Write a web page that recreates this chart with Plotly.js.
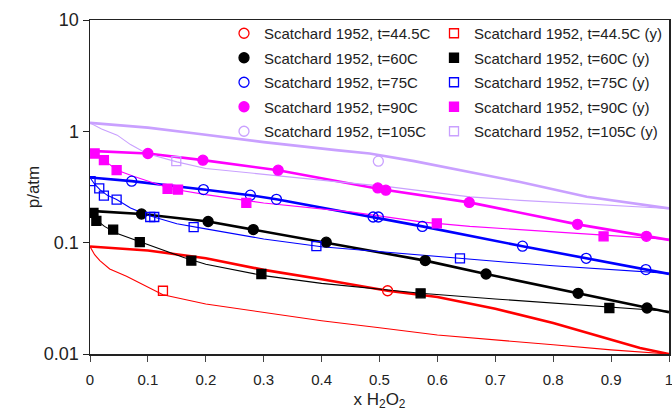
<!DOCTYPE html>
<html>
<head>
<meta charset="utf-8">
<script src="https://cdn.plot.ly/plotly-3.0.1.min.js"></script>
<style>html,body{margin:0;padding:0;background:#fff}#chart{width:672px;height:414px}</style>
</head>
<body>
<div id="chart"></div>
<script>
// ---- Data (x = mole fraction H2O2, p in atm) ----
// t = 44.5 C
const x445_pts = [0.514];
const p445_pts = [0.037];
const y445_pts = [0.126];
const q445_pts = [0.037];
const x445_line = [0, 0.05, 0.1, 0.2, 0.3, 0.4, 0.514, 0.6, 0.7, 0.8, 0.9, 0.95, 1.0];
const p445_line = [0.0923, 0.089, 0.085, 0.0725, 0.057, 0.047, 0.037, 0.0325, 0.0255, 0.019, 0.0135, 0.0113, 0.0100];
const y445_line = [0, 0.008, 0.017, 0.034, 0.063, 0.126, 0.2, 0.3, 0.4, 0.5, 0.6, 0.8, 0.9, 1.0];
const q445_line = [0.0923, 0.078, 0.069, 0.058, 0.050, 0.034, 0.0281, 0.0237, 0.0199, 0.0172, 0.0148, 0.0121, 0.0109, 0.0100];

// t = 60 C
const x60_pts = [0.089, 0.204, 0.282, 0.408, 0.579, 0.684, 0.843, 0.962];
const p60_pts = [0.181, 0.155, 0.131, 0.101, 0.069, 0.0523, 0.0351, 0.0259];
const y60_pts = [0.006, 0.011, 0.040, 0.086, 0.175, 0.296, 0.571, 0.897];
const q60_pts = [0.185, 0.157, 0.131, 0.101, 0.069, 0.0523, 0.0351, 0.0259];
const x60_line = [0, 0.089, 0.204, 0.282, 0.408, 0.579, 0.684, 0.843, 0.962, 1.0];
const p60_line = [0.193, 0.181, 0.155, 0.131, 0.101, 0.069, 0.0523, 0.0351, 0.0259, 0.0237];
const y60_line = [0, 0.006, 0.011, 0.025, 0.047, 0.087, 0.125, 0.162, 0.2, 0.3, 0.4, 0.571, 0.7, 0.9, 1.0];
const q60_line = [0.193, 0.178, 0.160, 0.140, 0.121, 0.102, 0.086, 0.0735, 0.064, 0.0506, 0.0431, 0.0351, 0.0312, 0.0262, 0.0242];

// t = 75 C
const x75_pts = [0.072, 0.196, 0.277, 0.322, 0.489, 0.498, 0.574, 0.747, 0.857, 0.960];
const p75_pts = [0.357, 0.300, 0.267, 0.245, 0.170, 0.170, 0.140, 0.093, 0.0724, 0.0573];
const y75_pts = [0.001, 0.016, 0.024, 0.046, 0.104, 0.111, 0.179, 0.391, 0.639];
const q75_pts = [0.357, 0.307, 0.265, 0.244, 0.170, 0.170, 0.138, 0.093, 0.0724];
const x75_line = [0, 0.072, 0.196, 0.277, 0.322, 0.49, 0.574, 0.747, 0.857, 0.96, 1.0];
const p75_line = [0.385, 0.357, 0.300, 0.267, 0.245, 0.170, 0.140, 0.093, 0.0724, 0.0573, 0.0524];
const y75_line = [0, 0.008, 0.018, 0.03, 0.046, 0.07, 0.1, 0.15, 0.2, 0.3, 0.4, 0.5, 0.6, 0.7, 0.8, 0.9, 1.0];
const q75_line = [0.385, 0.335, 0.296, 0.266, 0.244, 0.205, 0.176, 0.148, 0.133, 0.108, 0.092, 0.083, 0.075, 0.068, 0.062, 0.057, 0.053];

// t = 90 C
const x90_pts = [0.100, 0.195, 0.325, 0.497, 0.511, 0.655, 0.842, 0.961];
const p90_pts = [0.632, 0.551, 0.448, 0.310, 0.296, 0.230, 0.146, 0.114];
const y90_pts = [0.008, 0.024, 0.046, 0.134, 0.152, 0.270, 0.599, 0.887];
const q90_pts = [0.632, 0.551, 0.448, 0.305, 0.300, 0.228, 0.149, 0.114];
const x90_line = [0, 0.1, 0.195, 0.325, 0.5, 0.655, 0.842, 0.961, 1.0];
const p90_line = [0.668, 0.632, 0.551, 0.448, 0.303, 0.230, 0.146, 0.114, 0.106];
const y90_line = [0, 0.008, 0.024, 0.047, 0.075, 0.104, 0.14, 0.2, 0.3, 0.45, 0.575, 0.656, 0.887, 1.0];
const q90_line = [0.668, 0.632, 0.551, 0.448, 0.395, 0.351, 0.305, 0.270, 0.227, 0.189, 0.153, 0.140, 0.117, 0.107];

// t = 105 C
const x105_pts = [0.498];
const p105_pts = [0.540];
const y105_pts = [0.149];
const q105_pts = [0.540];
const x105_line = [0, 0.1, 0.179, 0.3, 0.425, 0.483, 0.56, 0.656, 0.743, 0.858, 0.93, 1.0];
const p105_line = [1.19, 1.08, 0.96, 0.80, 0.678, 0.632, 0.54, 0.432, 0.351, 0.258, 0.228, 0.203];
const y105_line = [0, 0.02, 0.047, 0.07, 0.098, 0.15, 0.2, 0.26, 0.328, 0.42, 0.518, 0.656, 0.743, 0.87, 1.0];
const q105_line = [1.19, 1.05, 0.924, 0.76, 0.632, 0.532, 0.464, 0.43, 0.400, 0.355, 0.317, 0.258, 0.240, 0.22, 0.203];

const labels = ['Scatchard 1952, t=44.5C', 'Scatchard 1952, t=60C', 'Scatchard 1952, t=75C',
                'Scatchard 1952, t=90C', 'Scatchard 1952, t=105C'];
const colors = ['#ff0000', '#000000', '#0000ff', '#ff00ff', '#c9a0ff'];

const sets = [
  [x445_pts, p445_pts, y445_pts, q445_pts, x445_line, p445_line, y445_line, q445_line, 'circle-open', 'square-open'],
  [x60_pts, p60_pts, y60_pts, q60_pts, x60_line, p60_line, y60_line, q60_line, 'circle', 'square'],
  [x75_pts, p75_pts, y75_pts, q75_pts, x75_line, p75_line, y75_line, q75_line, 'circle-open', 'square-open'],
  [x90_pts, p90_pts, y90_pts, q90_pts, x90_line, p90_line, y90_line, q90_line, 'circle', 'square'],
  [x105_pts, p105_pts, y105_pts, q105_pts, x105_line, p105_line, y105_line, q105_line, 'circle-open', 'square-open']
];

const lineTraces = [], ptTraces = [], sqTraces = [];
sets.forEach((s, i) => {
  const c = colors[i];
  lineTraces.push({x: s[6], y: s[7], mode: 'lines', line: {color: c, width: 1.1}, showlegend: false, hoverinfo: 'skip'});
  lineTraces.push({x: s[4], y: s[5], mode: 'lines', line: {color: c, width: 2.6}, showlegend: false, hoverinfo: 'skip'});
  ptTraces.push({x: s[0], y: s[1], mode: 'markers', name: labels[i], legend: 'legend', legendgroup: 'c' + i,
    marker: {symbol: s[8], size: 10, color: c, line: {color: c, width: 1.3}}});
  sqTraces.push({x: s[2], y: s[3], mode: 'markers', name: labels[i] + ' (y)', legend: 'legend2', legendgroup: 's' + i,
    marker: {symbol: s[9], size: 9, color: c, line: {color: c, width: 1.3}}});
});

const legendCommon = {
  bgcolor: 'rgba(0,0,0,0)', borderwidth: 0, traceorder: 'grouped', tracegroupgap: 2,
  font: {family: 'Liberation Sans, Arial, sans-serif', size: 15, color: '#222'},
  xanchor: 'left', yanchor: 'top', xref: 'paper', yref: 'paper', itemwidth: 30
};

const layout = {
  width: 672, height: 414,
  margin: {l: 90, r: 3, t: 20, b: 60},
  paper_bgcolor: '#fff', plot_bgcolor: '#fff',
  font: {family: 'Liberation Sans, Arial, sans-serif', color: '#222'},
  showlegend: true,
  legend: Object.assign({}, legendCommon, {x: (224 - 90) / 579, y: 1.009}),
  legend2: Object.assign({}, legendCommon, {x: (434 - 90) / 579, y: 1.009}),
  xaxis: {
    range: [0, 1], tickvals: [0, 0.1, 0.2, 0.3, 0.4, 0.5, 0.6, 0.7, 0.8, 0.9, 1],
    ticktext: ['0', '0.1', '0.2', '0.3', '0.4', '0.5', '0.6', '0.7', '0.8', '0.9', '1'],
    ticks: 'outside', ticklen: 6, tickcolor: '#444', showgrid: false, zeroline: false,
    showline: true, linecolor: '#222', linewidth: 1.5, mirror: true, ticklabelstandoff: 5,
    ticklabeloverflow: 'allow',
    tickfont: {size: 15, color: '#222'},
    title: {text: 'x H<sub>2</sub>O<sub>2</sub>', font: {size: 17, color: '#222'}, standoff: 6}
  },
  yaxis: {
    type: 'log', range: [-2, 1], tickvals: [0.01, 0.1, 1, 10], ticktext: ['0.01', '0.1', '1', '10'],
    ticks: 'outside', ticklen: 6, tickcolor: '#222', showgrid: false, zeroline: false,
    showline: true, linecolor: '#222', linewidth: 1.5, mirror: true,
    tickfont: {size: 18, color: '#222'},
    title: {text: 'p/atm', font: {size: 17, color: '#222'}, standoff: 0}
  }
};

Plotly.newPlot('chart', lineTraces.concat(ptTraces, sqTraces), layout, {displayModeBar: false, staticPlot: true});
</script>
</body>
</html>
